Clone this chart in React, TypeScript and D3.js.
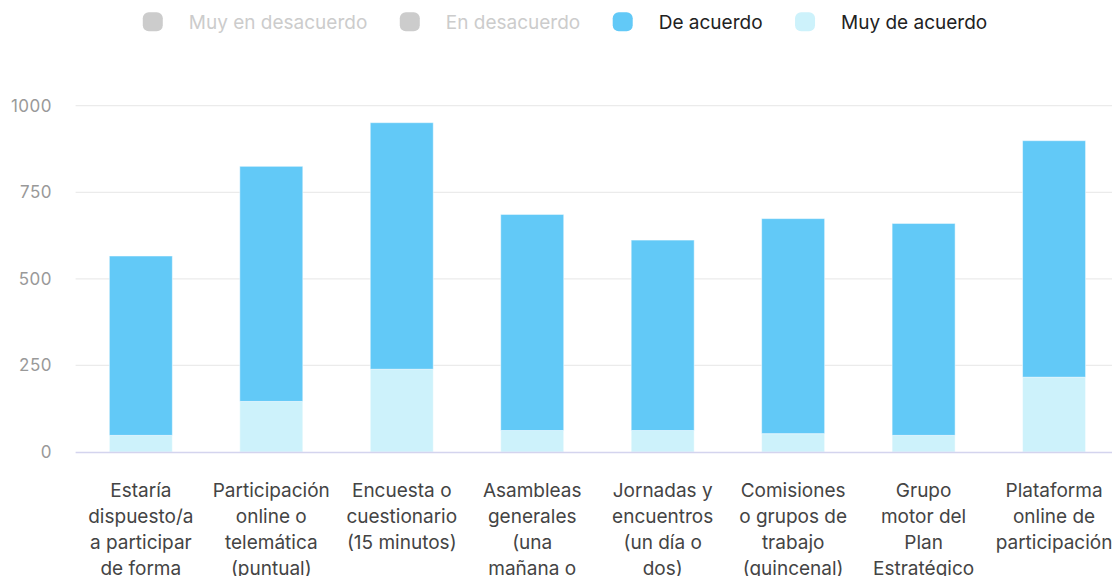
import React from "react";
import * as d3 from "d3";

const categoryLines: string[][] = [
  ["Estaría", "dispuesto/a", "a participar", "de forma"],
  ["Participación", "online o", "telemática", "(puntual)"],
  ["Encuesta o", "cuestionario", "(15 minutos)"],
  ["Asambleas", "generales", "(una", "mañana o"],
  ["Jornadas y", "encuentros", "(un día o", "dos)"],
  ["Comisiones", "o grupos de", "trabajo", "(quincenal)"],
  ["Grupo", "motor del", "Plan", "Estratégico"],
  ["Plataforma", "online de", "participación"],
];

const seriesNames = ["Muy en desacuerdo", "En desacuerdo", "De acuerdo", "Muy de acuerdo"];
const seriesVisible = [false, false, true, true];
const seriesColors = ["#62c9f7", "#62c9f7", "#62c9f7", "#cdf2fb"];

const muyDeAcuerdo = [48, 146, 239, 62, 62, 53, 48, 216];
const deAcuerdo = [518, 679, 712, 624, 550, 621, 612, 683];

const yTicks = [0, 250, 500, 750, 1000];

const W = 1117;
const H = 576;
const FONT = "Inter, 'Noto Sans', sans-serif";

function measure(text: string, size: number): number {
  const c = document.createElement("canvas").getContext("2d");
  if (!c) return text.length * size * 0.55;
  c.font = `${size}px Inter`;
  return c.measureText(text).width;
}

export default function App() {
  const keys = ["muy", "de"];
  const rows = categoryLines.map((_, i) => ({ i, muy: muyDeAcuerdo[i], de: deAcuerdo[i] }));
  const stacked = d3.stack<any>().keys(keys)(rows);
  const colorFor: Record<string, string> = { muy: seriesColors[3], de: seriesColors[2] };

  const x = d3
    .scaleBand<number>()
    .domain(categoryLines.map((_, i) => i))
    .range([75.6, 1119.3])
    .paddingInner(0.517)
    .paddingOuter(0.2585);
  const y = d3.scaleLinear().domain([0, 1000]).range([452, 105.7]);

  const gridX1 = 75.6;
  const gridX2 = 1112;

  // legend layout
  const legendFont = 19;
  const markerW = 20;
  const markerH = 19;
  const markerGap = 26;
  const itemGap = 32.5;
  const widths = seriesNames.map((n) => markerW + markerGap + measure(n, legendFont));
  const total = d3.sum(widths) + itemGap * (seriesNames.length - 1);
  let lx = 565 - total / 2;
  const legendItems = seriesNames.map((n, i) => {
    const item = { name: n, x: lx, visible: seriesVisible[i], color: seriesColors[i] };
    lx += widths[i] + itemGap;
    return item;
  });

  return (
    <div style={{ position: "absolute", left: 0, top: 0, width: W, height: H, overflow: "hidden", background: "#fff" }}>
      <svg width={W} height={H} style={{ display: "block", fontFamily: FONT }}>
        {/* legend */}
        {legendItems.map((it) => (
          <g key={it.name} transform={`translate(${it.x},0)`}>
            <rect x={0} y={12.3} width={markerW} height={markerH} rx={6} fill={it.visible ? it.color : "#cccccc"} />
            <text
              x={markerW + markerGap}
              y={22}
              dominantBaseline="central"
              fontSize={legendFont}
              fill={it.visible ? "#222222" : "#cccccc"}
            >
              {it.name}
            </text>
          </g>
        ))}

        {/* grid + y labels */}
        {yTicks.map((t) => (
          <g key={t}>
            {t !== 0 && <line x1={gridX1} x2={gridX2} y1={y(t)} y2={y(t)} stroke="#ebebeb" strokeWidth={1.3} />}
            <text
              x={52}
              y={y(t)}
              textAnchor="end"
              dominantBaseline="central"
              fontSize={17}
              letterSpacing={0.5}
              fill="#999999"
            >
              {t}
            </text>
          </g>
        ))}

        {/* bars */}
        {stacked.map((s) => (
          <g key={s.key} fill={colorFor[s.key]}>
            {s.map((d, i) => (
              <rect
                key={i}
                x={x(i)}
                y={y(d[1])}
                width={x.bandwidth()}
                height={y(d[0]) - y(d[1])}
                stroke="#ffffff"
                strokeOpacity={0.5}
                strokeWidth={1}
              />
            ))}
          </g>
        ))}

        {/* baseline */}
        <line x1={gridX1} x2={gridX2} y1={y(0) + 0.5} y2={y(0) + 0.5} stroke="#d4d4ee" strokeWidth={1.5} />

        {/* x labels */}
        {categoryLines.map((lines, i) => (
          <text key={i} textAnchor="middle" fontSize={19} fill="#444444">
            {lines.map((ln, j) => (
              <tspan key={j} x={(x(i) as number) + x.bandwidth() / 2} y={490 + j * 26} dominantBaseline="central">
                {ln}
              </tspan>
            ))}
          </text>
        ))}
      </svg>
    </div>
  );
}
